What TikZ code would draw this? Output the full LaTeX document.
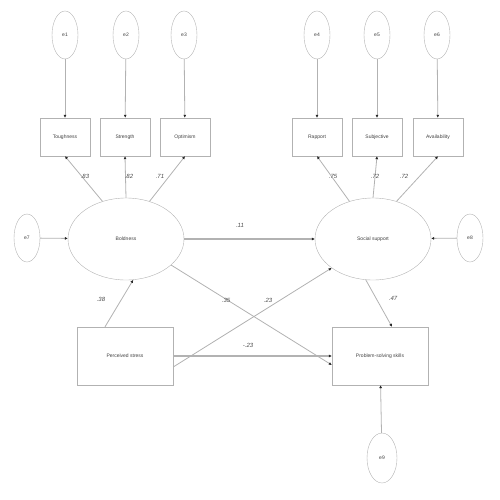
\documentclass[tikz,border=0pt]{standalone}
\usepackage{fontspec}
\setmainfont{Liberation Sans}
\usetikzlibrary{arrows.meta,shapes.geometric}
\begin{document}
\begin{tikzpicture}[x=1pt,y=-1pt,
  every node/.style={font=\fontsize{5}{6}\selectfont, inner sep=0pt, text=black!75},
  err/.style={draw=gray!60, ellipse, minimum width=26pt, minimum height=48pt},
  obs/.style={draw=gray!60, rectangle, minimum width=50pt, minimum height=38pt},
  big/.style={draw=gray!60, rectangle, minimum width=96pt, minimum height=58pt},
  lat/.style={draw=gray!60, ellipse, minimum width=116pt, minimum height=82pt},
  con/.style={draw=gray!60, line width=0.8pt, -{Latex[length=3pt,width=3pt,black!85]}},
  thick con/.style={con, line width=2pt},
  lbl/.style={font=\fontsize{6}{7}\selectfont\itshape, text=black!70}
]
\useasboundingbox (0,0) rectangle (500,500);
% top error ellipses
\node[err] (e1) at (65,35) {e1};
\node[err] (e2) at (126,35) {e2};
\node[err] (e3) at (184,35) {e3};
\node[err] (e4) at (317,35) {e4};
\node[err] (e5) at (377,35) {e5};
\node[err] (e6) at (437,35) {e6};
% indicator boxes
\node[obs] (b1) at (65,137) {Toughness};
\node[obs] (b2) at (125,137) {Strength};
\node[obs] (b3) at (185,137) {Optimism};
\node[obs] (b4) at (317,137) {Rapport};
\node[obs] (b5) at (377,137) {Subjective};
\node[obs] (b6) at (438,137) {Availability};
% latents
\node[lat] (L1) at (126,239) {Boldness};
\node[lat] (L2) at (373,239) {Social support};
\node[err] (e7) at (27,238) {e7};
\node[err] (e8) at (470,238) {e8};
% bottom boxes
\node[big] (PS) at (125,356) {Perceived stress};
\node[big] (PR) at (380,356) {Problem-solving skills};
\node[err, minimum width=30pt, minimum height=50pt] (e9) at (382,458) {e9};
% error arrows
\foreach \e/\b in {e1/b1,e2/b2,e3/b3,e4/b4,e5/b5,e6/b6} \draw[con] (\e) -- (\b);
\draw[con] (e7) -- (L1);
\draw[con] (e8) -- (L2);
\draw[con] (e9) -- (PR);
% loadings
\draw[con] (L1.122) -- (b1.south);
\draw[con] (L1.north) -- (b2.south);
\draw[con] (L1.58) -- (b3.south);
\draw[con] (L2.122) -- (b4.south);
\draw[con] (L2.north) -- (b5.south);
\draw[con] (L2.58) -- (b6.south);
\node[lbl] at (85,176) {.83};
\node[lbl] at (129,176) {.82};
\node[lbl] at (160,176) {.71};
\node[lbl] at (333,176) {.75};
\node[lbl] at (375,176) {.72};
\node[lbl] at (404,176) {.72};
% structural paths
\draw[thick con] (L1) -- (L2);
\node[lbl] at (240,225) {.11};
\coordinate (prw) at ([yshift=-9pt]PR.west);
\draw[con] (L1.-30) -- (prw);
\coordinate (psn) at ([xshift=-20pt]PS.north);
\draw[con] (psn) -- (L1.-80);
\node[lbl] at (101,299) {.38};
\coordinate (pse) at ([yshift=-11pt]PS.east);
\draw[con] (pse) -- (L2.-145);
\node[lbl] at (226,300) {.35};
\node[lbl] at (268,300) {.23};
\draw[thick con] (PS) -- (PR);
\node[lbl] at (248,345) {-.23};
\coordinate (prn) at ([xshift=12pt]PR.north);
\draw[con] (L2.-100) -- (prn);
\node[lbl] at (393,298) {.47};
\end{tikzpicture}
\end{document}
